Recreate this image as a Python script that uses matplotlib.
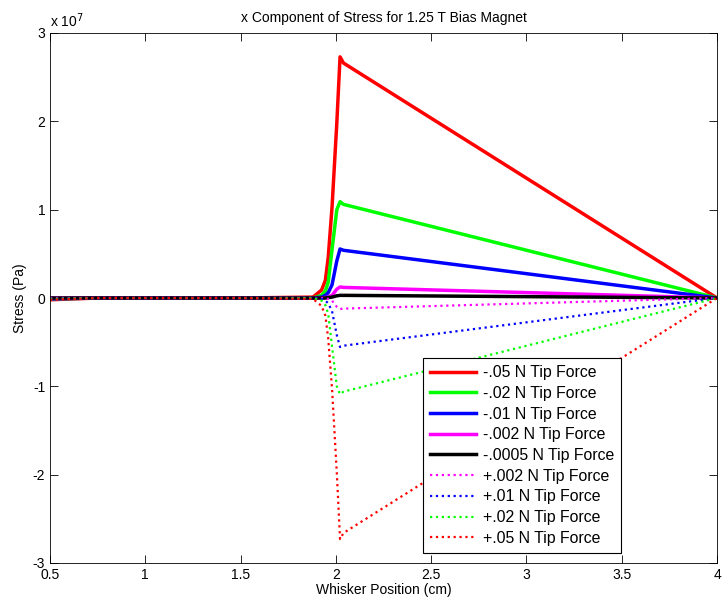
import matplotlib
matplotlib.use("Agg")
import matplotlib.pyplot as plt
from matplotlib.ticker import FuncFormatter

plt.rcParams['font.family'] = ['Liberation Sans', 'DejaVu Sans']
plt.rcParams['axes.unicode_minus'] = False

# Whisker position (cm)
x_pos = [0.5, 0.75, 1.5, 1.88, 1.925, 1.945, 1.96, 1.98, 2.005, 2.022, 2.04, 4.0]

# Stress values (x 1e7 Pa)
s_n05 = [-0.02, 0.0, 0.0, 0.01, 0.09, 0.20, 0.46, 1.03, 1.98, 2.73, 2.66, 0.0]
s_n02 = [-0.01, 0.0, 0.0, 0.0, 0.03, 0.08, 0.18, 0.55, 1.00, 1.09, 1.06, 0.0]
s_n01 = [-0.01, 0.0, 0.0, 0.0, 0.01, 0.03, 0.06, 0.15, 0.42, 0.555, 0.54, 0.0]
s_n002 = [0.0, 0.0, 0.0, 0.0, 0.0, 0.005, 0.01, 0.03, 0.10, 0.125, 0.12, 0.0]
s_n0005 = [0.0, 0.0, 0.0, 0.0, 0.0, 0.0, 0.005, 0.01, 0.025, 0.03, 0.03, 0.0]
s_p002 = [0.0, 0.0, 0.0, 0.0, 0.0, -0.005, -0.01, -0.03, -0.10, -0.125, -0.12, 0.0]
s_p01 = [-0.01, 0.0, 0.0, 0.0, -0.01, -0.03, -0.06, -0.15, -0.42, -0.555, -0.54, 0.0]
s_p02 = [-0.01, 0.0, 0.0, 0.0, -0.03, -0.08, -0.18, -0.55, -1.00, -1.09, -1.06, 0.0]
s_p05 = [-0.02, 0.0, 0.0, -0.01, -0.09, -0.20, -0.46, -1.03, -1.98, -2.73, -2.66, 0.0]

labels = ['-.05 N Tip Force', '-.02 N Tip Force', '-.01 N Tip Force',
          '-.002 N Tip Force', '-.0005 N Tip Force', '+.002 N Tip Force',
          '+.01 N Tip Force', '+.02 N Tip Force', '+.05 N Tip Force']
series = [s_n05, s_n02, s_n01, s_n002, s_n0005, s_p002, s_p01, s_p02, s_p05]
colors = ['#ff0000', '#00ff00', '#0000ff', '#ff00ff', '#000000',
          '#ff00ff', '#0000ff', '#00ff00', '#ff0000']
styles = ['-', '-', '-', '-', '-', ':', ':', ':', ':']

fig = plt.figure(figsize=(7.24, 6.07), dpi=100)
ax = fig.add_axes([50/724, 44/607, 667/724, 530/607])

for vals, lab, c, ls in zip(series, labels, colors, styles):
    yv = [v * 1e7 for v in vals]
    lw = 2.5 if ls == '-' else 1.6
    ax.plot(x_pos, yv, color=c, linestyle=ls, linewidth=lw, label=lab)

ax.set_xlim(0.5, 4)
ax.set_ylim(-3e7, 3e7)
ax.set_xticks([0.5, 1, 1.5, 2, 2.5, 3, 3.5, 4])
ax.set_xticklabels(['0.5', '1', '1.5', '2', '2.5', '3', '3.5', '4'])
ax.set_yticks([-3e7, -2e7, -1e7, 0, 1e7, 2e7, 3e7])
ax.yaxis.set_major_formatter(FuncFormatter(lambda v, p: '%g' % (v / 1e7)))
ax.tick_params(direction='in', top=True, right=True, labelsize=10, length=6, width=0.6)
for sp in ax.spines.values():
    sp.set_linewidth(0.6)

ax.text(0.0, 1.005, r'x 10$^7$', transform=ax.transAxes, fontsize=10,
        ha='left', va='bottom')
ax.set_title('x Component of Stress for 1.25 T Bias Magnet', fontsize=10, pad=8)
ax.set_xlabel('Whisker Position (cm)', fontsize=10, labelpad=1)
ax.set_ylabel('Stress (Pa)', fontsize=10, labelpad=4)

leg = ax.legend(loc='lower right', bbox_to_anchor=(0.856, 0.019), borderaxespad=0,
                fontsize=11.4, handlelength=2.9, labelspacing=0.36, fancybox=False,
                framealpha=1, edgecolor='black', borderpad=0.45, handletextpad=0.4)
leg.get_frame().set_linewidth(0.8)

fig.savefig('out.png', dpi=100)
